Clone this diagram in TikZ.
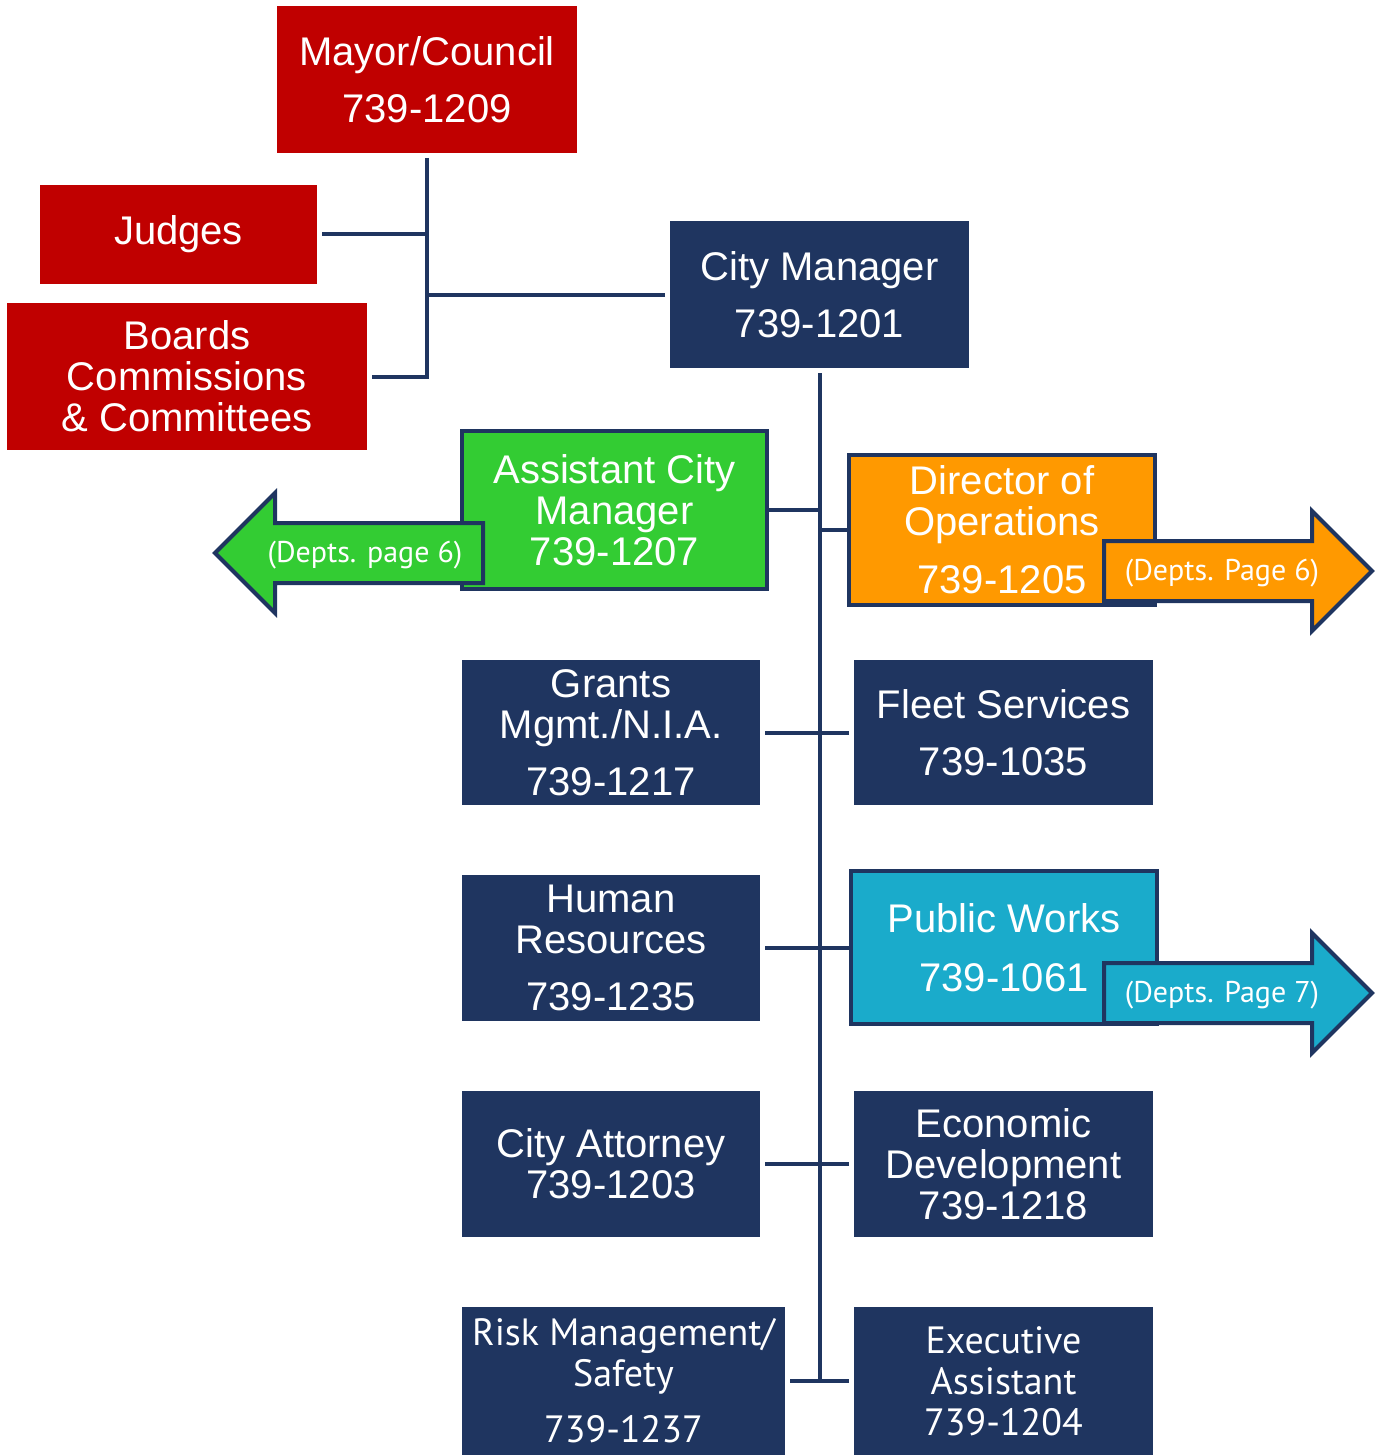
\documentclass[tikz,border=0pt]{standalone}
\usepackage{fontspec}
\setmainfont{Liberation Sans}
\newfontfamily\humanist{PT Sans}
\usepackage{tikz}
\usetikzlibrary{calc}
\definecolor{navy}{HTML}{1F3560}
\definecolor{council}{HTML}{C00000}
\definecolor{acmgreen}{HTML}{33CC33}
\definecolor{opsorange}{HTML}{FF9900}
\definecolor{pwteal}{HTML}{1AABCB}
\tikzset{
  unit/.style={rectangle, fill=navy, text=white, align=center, inner sep=0pt, outer sep=5pt,
    font=\fontsize{40}{41}\selectfont},
  redunit/.style={unit, fill=council},
  hunit/.style={unit, font=\humanist\fontsize{38}{41}\selectfont},
  colunit/.style={unit, draw=navy, line width=3.5pt, outer sep=1pt, fill=#1},
  link/.style={draw=navy, line width=4pt},
  tab/.style={draw=navy, line width=4pt, line join=miter},
  tabtext/.style={text=white, inner sep=0pt, font=\humanist\fontsize{30}{31}\selectfont}
}
\newcommand{\orgbox}[7]{\node[#2, minimum width={(#5-#3)*1pt}, minimum height={(#6-#4)*1pt}] (#1) at ({(#3+#5)/2},{(#4+#6)/2}) {#7};}
\newcommand{\deptarrow}[6]{%
  \draw[tab, fill=#5] (#2,{#3-30}) -- ++({(#4)*208},0) -- ++(0,-30) -- ++({(#4)*60},60)
    -- ++({-(#4)*60},60) -- ++(0,-30) -- ++({-(#4)*208},0) -- cycle;
  \node[tabtext] (#1) at ({#2+(#4)*118},{#3+2}) {#6};}

\begin{document}
\begin{tikzpicture}[x=1pt, y=-1pt]
\useasboundingbox (0,0) rectangle (1380,1455);
% council side
\orgbox{mayor}{redunit}{277}{6}{577}{153}{Mayor/Council\\[16pt]739-1209}
\orgbox{judges}{redunit}{40}{185}{317}{284}{Judges}
\orgbox{boards}{redunit}{7}{303}{367}{450}{Boards\\Commissions\\\& Committees}
\orgbox{citymgr}{unit}{670}{221}{969}{368}{City Manager\\[16pt]739-1201}
% left column
\orgbox{asstmgr}{colunit=acmgreen}{462}{431}{767}{589}{Assistant City\\Manager\\739-1207}
\orgbox{grants}{unit}{462}{660}{760}{805}{Grants\\Mgmt./N.I.A.\\[16pt]739-1217}
\orgbox{hr}{unit}{462}{875}{760}{1021}{Human\\Resources\\[16pt]739-1235}
\orgbox{attorney}{unit}{462}{1091}{760}{1237}{City Attorney\\739-1203}
\orgbox{riskmgmt}{hunit}{462}{1307}{785}{1455}{Risk Management/\\Safety\\[15pt]739-1237}
% right column
\orgbox{dirops}{colunit=opsorange}{849}{455}{1155}{605}{Director of\\Operations\\[17pt]739-1205}
\orgbox{fleet}{unit}{854}{660}{1153}{805}{Fleet Services\\[16pt]739-1035}
\orgbox{pubworks}{colunit=pwteal}{851}{871}{1157}{1024}{Public Works\\[18pt]739-1061}
\orgbox{econdev}{unit}{854}{1091}{1153}{1237}{Economic\\Development\\739-1218}
\orgbox{execasst}{hunit}{854}{1307}{1153}{1455}{Executive\\Assistant\\739-1204}
% connectors
\draw[link] (mayor.south) -- (mayor.south |- boards.east) -- (boards.east);
\draw[link] (judges.east) -- (judges.east -| mayor.south);
\draw[link] (citymgr.west) -- (citymgr.west -| mayor.south);
\draw[link] (citymgr.south) -- (citymgr.south |- riskmgmt.east) -- (riskmgmt.east);
\foreach \n in {asstmgr,grants,hr,attorney}
  \draw[link] (\n.east) -- (\n.east -| citymgr.south);
\foreach \n in {dirops,fleet,pubworks,econdev,execasst}
  \draw[link] (\n.west) -- (\n.west -| citymgr.south);
% page arrows
\deptarrow{deptsacm}{483}{553}{-1}{acmgreen}{(Depts. page 6)}
\deptarrow{deptsops}{1104}{571}{1}{opsorange}{(Depts. Page 6)}
\deptarrow{deptspw}{1104}{993}{1}{pwteal}{(Depts. Page 7)}
\end{tikzpicture}
\end{document}
